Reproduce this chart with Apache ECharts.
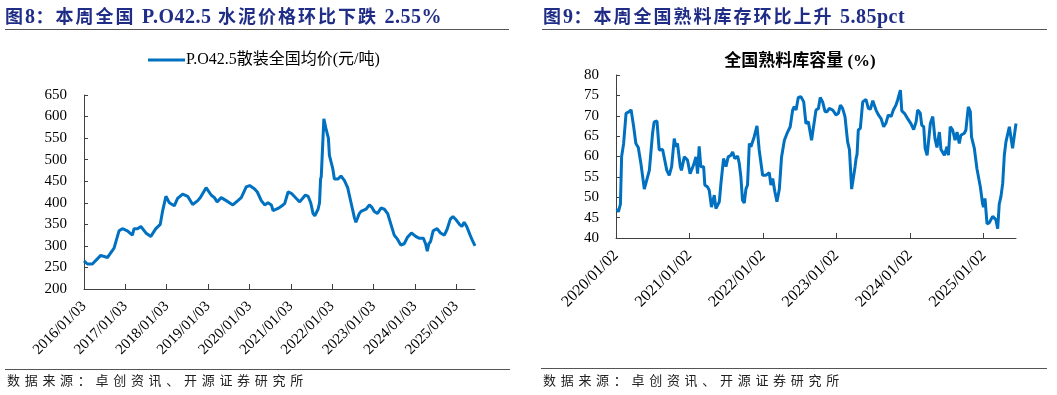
<!DOCTYPE html>
<html>
<head>
<meta charset="utf-8">
<script src="https://cdn.jsdelivr.net/npm/echarts@6/dist/echarts.min.js"></script>
<style>
  html, body { margin: 0; padding: 0; background: #fff; }
  #wrap { position: relative; width: 1057px; height: 395px; overflow: hidden; }
  #chart { position: absolute; left: 0; top: 0; width: 1057px; height: 395px; }
  .hdr { position: absolute; top: 4px; font-family: "Liberation Serif", "Noto Sans CJK SC", serif; font-weight: bold; font-size: 18px; color: #1F2D87; letter-spacing: 2px; white-space: nowrap; line-height: 24px; }
  .hdr .lat { font-size: 20px; letter-spacing: 0.5px; }
  .rule { position: absolute; height: 0; border-top: 1px solid #555; }
  .src { position: absolute; top: 371px; font-family: "Noto Sans CJK SC", sans-serif; font-size: 13px; color: #222; letter-spacing: 4.7px; white-space: nowrap; line-height: 18px; }
</style>
</head>
<body>
<div id="wrap">
  <div id="chart"></div>
  <div class="hdr" style="left:5px;">图<span class="lat">8</span>：本周全国 <span class="lat">P.O42.5</span> 水泥价格环比下跌 <span class="lat">2.55%</span></div>
  <div class="hdr" style="left:543px;">图<span class="lat">9</span>：本周全国熟料库存环比上升 <span class="lat">5.85pct</span></div>
  <div class="rule" style="left:5px; width:504px; top:29px;"></div>
  <div class="rule" style="left:542px; width:505px; top:29px;"></div>
  <div class="rule" style="left:5px; width:505px; top:369px;"></div>
  <div class="rule" style="left:541px; width:506px; top:368px;"></div>
  <div class="src" style="left:7px;">数据来源：卓创资讯、开源证券研究所</div>
  <div class="src" style="left:543px;">数据来源：卓创资讯、开源证券研究所</div>
</div>
<script>
// ---------- Data: P.O42.5 bulk cement national average price (yuan/ton) ----------
const priceName = 'P.O42.5散装全国均价(元/吨)';
const priceDates = [
  '2016/01/03','2016/02/02','2016/03/17','2016/05/30','2016/07/28','2016/09/25','2016/11/08','2016/12/08',
  '2017/01/21','2017/03/06','2017/03/21','2017/04/20','2017/05/20','2017/07/03','2017/08/16','2017/09/29',
  '2017/11/07','2017/11/27','2017/12/27','2018/01/26','2018/03/11','2018/04/09','2018/05/24','2018/07/07',
  '2018/08/20','2018/10/04','2018/10/27','2018/12/17','2019/01/30','2019/02/28','2019/03/24','2019/04/29',
  '2019/06/12','2019/07/11','2019/08/10','2019/09/23','2019/10/23','2019/12/06','2020/01/05','2020/02/18',
  '2020/03/13','2020/04/17','2020/05/17','2020/06/15','2020/07/15','2020/07/30','2020/09/12','2020/10/11',
  '2020/11/10','2020/12/10','2021/01/08','2021/02/21','2021/03/23','2021/04/07','2021/05/12','2021/06/05',
  '2021/06/28','2021/07/19','2021/08/03','2021/09/01','2021/09/14','2021/09/23','2021/09/29','2021/10/22',
  '2021/11/11','2021/12/01','2021/12/10','2022/01/08','2022/01/23','2022/02/22','2022/03/22','2022/04/21',
  '2022/05/20','2022/06/19','2022/07/19','2022/08/01','2022/08/31','2022/09/15','2022/10/29','2022/11/28',
  '2022/12/18','2023/01/10','2023/02/08','2023/03/10','2023/04/09','2023/05/08','2023/06/06','2023/07/05',
  '2023/08/04','2023/09/01','2023/10/01','2023/10/30','2023/12/04','2024/01/10','2024/02/09','2024/03/18',
  '2024/04/07','2024/04/22','2024/05/06','2024/05/21','2024/06/13','2024/07/18','2024/08/17','2024/09/20',
  '2024/10/14','2024/11/12','2024/12/05','2025/01/04','2025/02/01','2025/02/22','2025/03/14','2025/04/06',
  '2025/05/06','2025/05/27','2025/06/18'
];
const priceValues = [
  265,258,258,278,273,295,335,340,
  335,325,340,340,345,330,322,340,
  350,380,415,400,393,410,420,415,
  396,405,412,435,418,412,402,412,
  405,400,395,405,412,437,440,432,
  425,405,395,400,395,382,387,392,
  398,425,422,410,402,402,418,415,
  400,375,370,385,400,455,460,595,
  570,550,510,480,455,455,462,452,
  435,400,365,355,375,380,385,395,
  390,380,375,388,385,375,350,325,
  315,302,305,320,330,322,318,318,
  305,288,305,310,335,340,330,325,
  338,362,368,360,350,345,355,345,
  325,312,300
];
const priceTickLabels = ['2016/01/03','2017/01/03','2018/01/03','2019/01/03','2020/01/03',
  '2021/01/03','2022/01/03','2023/01/03','2024/01/03','2025/01/03'];

// ---------- Data: national clinker storage ratio (%) ----------
const clinkerTitle = '全国熟料库容量 (%)';
const clinkerDates = [
  '2020/01/07','2020/01/14','2020/01/24','2020/01/30','2020/02/09','2020/02/21','2020/03/08','2020/03/17',
  '2020/03/30','2020/04/10','2020/04/22','2020/05/05','2020/05/22','2020/05/30','2020/06/16','2020/07/02',
  '2020/07/10','2020/07/24','2020/08/04','2020/08/21','2020/09/11','2020/09/23','2020/10/05','2020/10/18',
  '2020/10/26','2020/11/03','2020/11/17','2020/11/23','2020/12/07','2020/12/23','2021/01/05','2021/01/22',
  '2021/02/03','2021/02/11','2021/02/19','2021/02/27','2021/03/13','2021/03/19','2021/04/02','2021/04/10',
  '2021/04/21','2021/05/05','2021/05/13','2021/05/30','2021/06/07','2021/06/20','2021/07/02','2021/07/13',
  '2021/07/27','2021/08/04','2021/08/15','2021/08/29','2021/09/06','2021/09/14','2021/09/22','2021/10/01',
  '2021/10/09','2021/10/17','2021/10/26','2021/11/03','2021/11/19','2021/12/03','2021/12/14','2021/12/31',
  '2022/01/16','2022/02/02','2022/02/10','2022/02/19','2022/03/02','2022/03/12','2022/03/24','2022/04/04',
  '2022/04/18','2022/05/04','2022/05/17','2022/05/29','2022/06/06','2022/06/15','2022/06/26','2022/07/09',
  '2022/07/23','2022/08/03','2022/08/15','2022/08/31','2022/09/05','2022/09/22','2022/10/04','2022/10/13',
  '2022/10/25','2022/11/06','2022/11/16','2022/11/27','2022/12/14','2022/12/30','2023/01/11','2023/01/21',
  '2023/02/01','2023/02/13','2023/02/26','2023/03/07','2023/03/18','2023/03/25','2023/04/04','2023/04/09',
  '2023/04/14','2023/04/20','2023/04/30','2023/05/12','2023/05/28','2023/06/09','2023/06/19','2023/07/01',
  '2023/07/17','2023/07/29','2023/08/11','2023/08/19','2023/08/24','2023/09/05','2023/09/16','2023/09/30',
  '2023/10/11','2023/10/24','2023/11/02','2023/11/15','2023/11/22','2023/12/05','2023/12/21','2024/01/07',
  '2024/01/20','2024/02/01','2024/02/09','2024/02/22','2024/02/29','2024/03/10','2024/03/17','2024/03/27',
  '2024/04/02','2024/04/12','2024/04/24','2024/05/05','2024/05/15','2024/05/27','2024/06/04','2024/06/12',
  '2024/06/21','2024/07/04','2024/07/11','2024/07/20','2024/08/01','2024/08/13','2024/08/23','2024/09/03',
  '2024/09/11','2024/09/28','2024/10/06','2024/10/18','2024/10/28','2024/11/03','2024/11/17','2024/11/30',
  '2024/12/17','2024/12/28','2025/01/02','2025/01/09','2025/01/19','2025/01/30','2025/02/16','2025/03/04',
  '2025/03/13','2025/03/21','2025/03/29','2025/04/07','2025/04/15','2025/04/23','2025/05/01','2025/05/10',
  '2025/05/18','2025/05/26','2025/06/03','2025/06/12'
];
const clinkerValues = [
  47.2,46.4,48.3,60.0,63.2,70.6,71.0,71.5,
  67.3,63.2,62.2,58.3,52.0,52.0,56.6,65.7,
  68.5,68.7,61.6,61.7,56.6,55.4,57.5,64.4,
  62.4,63.2,57.5,56.6,59.9,59.1,55.8,57.9,
  59.9,55.8,62.5,57.5,57.5,53.0,52.5,51.7,
  47.6,50.5,47.2,48.9,53.4,59.5,57.5,59.9,
  60.3,61.1,59.5,60.1,58.3,55.0,49.3,48.6,
  52.0,53.0,63.2,62.4,64.8,67.5,61.6,55.4,
  55.4,56.0,53.0,54.6,51.3,48.9,52.0,59.9,
  64.0,66.0,67.3,71.4,72.2,71.4,74.5,74.7,
  73.4,68.1,68.5,64.0,64.0,71.4,71.8,74.5,
  73.4,71.0,71.0,71.8,71.4,70.2,70.6,72.6,
  71.8,69.8,63.6,61.7,52.0,52.0,57.5,59.5,
  60.6,66.5,66.9,73.4,74.0,71.8,71.6,73.7,
  71.4,70.2,69.3,69.6,67.3,68.3,70.2,69.8,
  71.4,72.6,74.0,76.3,71.2,70.6,69.3,68.0,
  66.6,68.5,71.4,70.6,67.7,67.3,62.0,60.3,
  60.6,68.1,69.8,64.4,62.2,66.0,61.7,62.0,
  60.3,62.4,60.3,67.3,66.5,64.0,66.0,63.2,
  65.2,65.7,66.5,72.2,71.0,64.8,62.0,57.0,
  52.5,48.4,47.6,49.7,43.5,43.7,45.3,44.5,
  42.3,48.4,50.1,53.4,60.3,63.6,63.4,67.3,
  67.7,62.0,62.2,68.1
];
const clinkerTickLabels = ['2020/01/02','2021/01/02','2022/01/02','2023/01/02','2024/01/02','2025/01/02'];

// ---------- helpers ----------
// date string -> fractional year, with each year starting at January <startDay>
function toYear(s, startDay) {
  const p = s.split('/').map(Number);
  const t = Date.UTC(p[0], p[1] - 1, p[2]);
  let y = p[0];
  let t0 = Date.UTC(y, 0, startDay);
  if (t < t0) { y -= 1; t0 = Date.UTC(y, 0, startDay); }
  const t1 = Date.UTC(y + 1, 0, startDay);
  return y + (t - t0) / (t1 - t0);
}

const priceData = priceDates.map((d, i) => [toYear(d, 3), priceValues[i]]);
const clinkerData = clinkerDates.map((d, i) => [toYear(d, 2), clinkerValues[i]]);
const priceTickVals = priceTickLabels.map(l => Number(l.slice(0, 4)));
const clinkerTickVals = clinkerTickLabels.map(l => Number(l.slice(0, 4)));

const serifFont = '"Liberation Serif", "Times New Roman", serif';
const axisColor = '#404040';
const lineColor = '#0070C0';

function xAxisOf(gridIndex, tickVals, labels, maxVal, fontSize) {
  return {
    type: 'value', gridIndex: gridIndex,
    min: tickVals[0], max: maxVal, interval: 1,
    splitLine: { show: false },
    axisLine: { lineStyle: { color: axisColor, width: 1 } },
    axisTick: { inside: true, length: 5, customValues: tickVals, lineStyle: { color: axisColor } },
    axisLabel: {
      customValues: tickVals, rotate: 45, margin: 15,
      fontFamily: serifFont, fontSize: fontSize, color: '#000',
      formatter: v => labels[tickVals.indexOf(Math.round(v))] || ''
    }
  };
}
function yAxisOf(gridIndex, min, max, interval, fontSize) {
  return {
    type: 'value', gridIndex: gridIndex, min: min, max: max, interval: interval,
    splitLine: { show: false },
    axisLine: { show: true, lineStyle: { color: axisColor, width: 1 } },
    axisTick: { show: true, inside: true, length: 4, lineStyle: { color: axisColor } },
    axisLabel: { fontFamily: serifFont, fontSize: fontSize, color: '#000', margin: 17 }
  };
}

const chart = echarts.init(document.getElementById('chart'), null, { renderer: 'canvas' });
chart.setOption({
  animation: false,
  backgroundColor: '#fff',
  title: [{
    text: clinkerTitle, left: 795, top: 48, textAlign: 'center',
    textStyle: { fontFamily: '"Liberation Serif", "Noto Sans CJK SC", serif', fontWeight: 'bold', fontSize: 17, color: '#000' }
  }],
  legend: {
    data: [priceName], left: 143, top: 47,
    itemWidth: 37, itemHeight: 3, itemGap: 10,
    icon: 'rect',
    textStyle: { fontFamily: '"Liberation Serif", "Noto Sans CJK SC", serif', fontSize: 16, color: '#000', padding: [0, 0, 0, -4] }
  },
  grid: [
    { left: 84, top: 95, width: 391, height: 194 },
    { left: 616, top: 75, width: 400, height: 163 }
  ],
  xAxis: [
    xAxisOf(0, priceTickVals, priceTickLabels, priceData[priceData.length - 1][0], 15),
    xAxisOf(1, clinkerTickVals, clinkerTickLabels, clinkerData[clinkerData.length - 1][0], 16)
  ],
  yAxis: [
    yAxisOf(0, 200, 650, 50, 15),
    yAxisOf(1, 40, 80, 5, 15)
  ],
  series: [
    {
      name: priceName, type: 'line', xAxisIndex: 0, yAxisIndex: 0,
      data: priceData, showSymbol: false, symbol: 'none',
      lineStyle: { color: lineColor, width: 3 }, itemStyle: { color: lineColor }
    },
    {
      name: clinkerTitle, type: 'line', xAxisIndex: 1, yAxisIndex: 1,
      data: clinkerData, showSymbol: false, symbol: 'none',
      lineStyle: { color: lineColor, width: 3 }, itemStyle: { color: lineColor }
    }
  ]
});
</script>
</body>
</html>
